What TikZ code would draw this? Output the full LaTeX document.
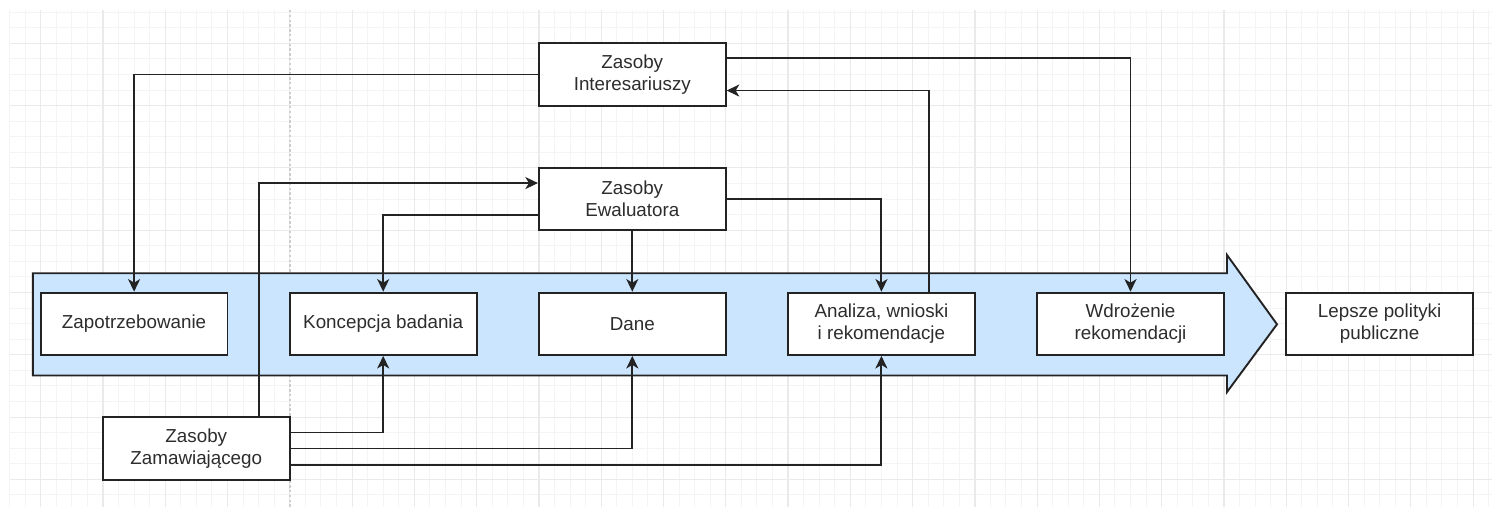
\documentclass[tikz,border=0pt]{standalone}
\usepackage{fontspec}
\setmainfont{Liberation Sans}
\usetikzlibrary{arrows.meta,calc}
\definecolor{gridminor}{RGB}{244,244,244}
\definecolor{gridmajor}{RGB}{234,234,234}
\definecolor{pageline}{RGB}{205,205,205}
\definecolor{flowblue}{RGB}{204,229,255}
\definecolor{ink}{RGB}{35,35,35}
\definecolor{txt}{RGB}{45,45,45}
\tikzset{
  box/.style={draw=ink, line width=0.95pt, fill=white, minimum width=93.4pt,
    minimum height=31.15pt, inner sep=0pt, align=center, text=txt,
    font=\fontsize{9.4}{10.9}\selectfont},
  link/.style={draw=ink, line width=0.95pt},
  arr/.style={link, -{Stealth[length=6.3pt,width=6pt,inset=1.8pt]}},
  minorline/.style={draw=gridminor, line width=0.5pt},
  majorline/.style={draw=gridmajor, line width=0.6pt},
}
\begin{document}
\begin{tikzpicture}[x=0.5pt,y=-0.5pt]
  % canvas
  \fill[white] (0,0) rectangle (1492,507);
  \useasboundingbox (0,0) rectangle (1492,507);

  % background grid
  \foreach \i in {0,...,95} {
    \draw[minorline] ({9.5+\i*15.57},10) -- ({9.5+\i*15.57},507);
  }
  \foreach \j in {0,...,32} {
    \draw[minorline] (9.5,{12.2+\j*15.57}) -- (1492,{12.2+\j*15.57});
  }
  \foreach \i in {0,...,23} {
    \draw[majorline] ({40.7+\i*62.28},10) -- ({40.7+\i*62.28},507);
  }
  \foreach \j in {0,...,7} {
    \draw[majorline] (9.5,{43.3+\j*62.3}) -- (1492,{43.3+\j*62.3});
  }
  % page break marker
  \draw[pageline, line width=0.7pt, dash pattern=on 1.2pt off 1.2pt] (290,10) -- (290,507);

  % process arrow
  \draw[ink, line width=0.95pt, fill=flowblue, line join=miter]
    (32.9,273.3) -- (1227,273.3) -- (1227,255) -- (1277,324.3)
    -- (1227,392) -- (1227,375.5) -- (32.9,375.5) -- cycle;

  % resource boxes
  \node[box] (int) at (632.3,74.5) {Zasoby\\Interesariuszy};
  \node[box] (ewa) at (632.3,199.1) {Zasoby\\Ewaluatora};
  \node[box] (zam) at (196.3,448.5) {Zasoby\\Zamawiającego};

  % process stages
  \node[box] (zap) at (134.1,323.8) {Zapotrzebowanie};
  \node[box] (kon) at (383.2,323.8) {Koncepcja badania};
  \node[box] (dane) at (632.3,323.8) {Dane};
  \node[box] (ana) at (881.4,323.8) {Analiza, wnioski\\i rekomendacje};
  \node[box] (wdr) at (1130.5,323.8) {Wdrożenie\\rekomendacji};
  \node[box] (lep) at (1379.6,323.8) {Lepsze polityki\\publiczne};

  % connection points on box sides
  \coordinate (intE1) at ($(int.north east)!0.25!(int.south east)$);
  \coordinate (intE3) at ($(int.north east)!0.75!(int.south east)$);
  \coordinate (ewaW1) at ($(ewa.north west)!0.25!(ewa.south west)$);
  \coordinate (ewaW3) at ($(ewa.north west)!0.75!(ewa.south west)$);
  \coordinate (zamE1) at ($(zam.north east)!0.25!(zam.south east)$);
  \coordinate (zamE3) at ($(zam.north east)!0.75!(zam.south east)$);
  \coordinate (zamN) at ($(zam.north west)!0.832!(zam.north east)$);
  \coordinate (anaN) at ($(ana.north west)!0.75!(ana.north east)$);

  % connectors
  \draw[arr] (int.west) -| (zap.north);
  \draw[arr] (intE1) -| (wdr.north);
  \draw[arr] (anaN) |- (intE3);
  \draw[arr] (zamN) |- (ewaW1);
  \draw[arr] (ewaW3) -| (kon.north);
  \draw[arr] (ewa.south) -- (dane.north);
  \draw[arr] (ewa.east) -| (ana.north);
  \draw[arr] (zamE1) -| (kon.south);
  \draw[arr] (zam.east) -| (dane.south);
  \draw[arr] (zamE3) -| (ana.south);
\end{tikzpicture}
\end{document}
